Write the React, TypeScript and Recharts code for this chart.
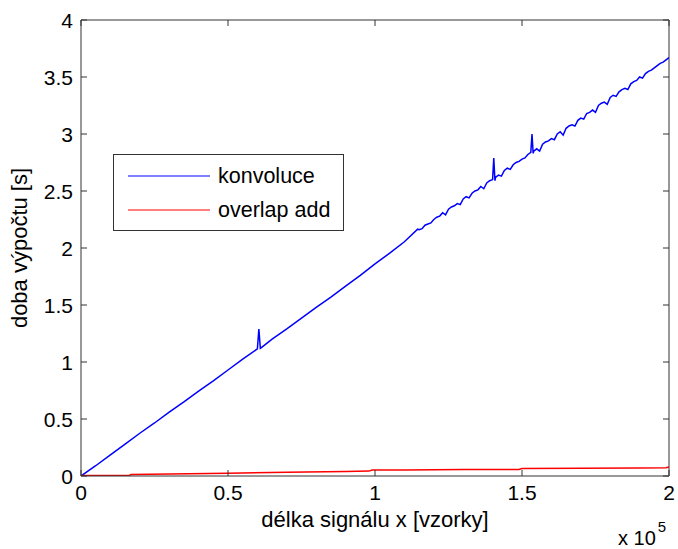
import React from "react";
import { LineChart, Line, XAxis, YAxis, Label, ReferenceLine } from "recharts";

// konvoluce: x in samples, y = time [s]
const konvX = [
  0, 5000, 10000, 15000, 20000, 25000, 30000, 35000, 40000, 45000, 50000, 55000, 60000, 60500, 61000, 62000,
  65000, 70000, 75000, 80000, 85000, 90000, 95000, 100000, 105000, 110000, 114500,
  115000, 116000, 117000, 118000, 119000, 120000, 121000, 122000, 123000, 124000, 125000, 126000, 127000,
  128000, 129000, 130000, 131000, 132000, 133000, 134000, 135000, 136000, 137000, 138000, 139000, 140000,
  140400, 140800, 141000, 142000, 143000, 144000, 145000, 146000, 147000, 148000, 149000, 150000, 151000,
  152000, 153000, 153400, 153800, 154000, 155000, 156000, 157000, 158000, 159000, 160000, 161000, 162000,
  163000, 164000, 165000, 166000, 167000, 168000, 169000, 170000, 171000, 172000, 173000, 174000, 175000,
  176000, 177000, 178000, 179000, 180000, 181000, 182000, 183000, 184000, 185000, 186000, 187000, 188000,
  189000, 190000, 191000, 192000, 193000, 194000, 195000, 196000, 197000, 198000, 199000, 200000,
];
const konvY = [
  0, 0.09, 0.185, 0.28, 0.375, 0.465, 0.56, 0.65, 0.745, 0.835, 0.93, 1.025, 1.115, 1.29, 1.12, 1.14,
  1.2, 1.29, 1.385, 1.48, 1.57, 1.665, 1.76, 1.86, 1.955, 2.055, 2.165,
  2.16, 2.17, 2.2, 2.21, 2.22, 2.25, 2.27, 2.28, 2.31, 2.29, 2.34, 2.36, 2.37,
  2.39, 2.38, 2.43, 2.45, 2.44, 2.48, 2.5, 2.51, 2.54, 2.52, 2.57, 2.59, 2.6,
  2.79, 2.59, 2.62, 2.64, 2.63, 2.68, 2.7, 2.69, 2.73, 2.75, 2.76, 2.78, 2.79,
  2.82, 2.84, 3.0, 2.83, 2.85, 2.87, 2.85, 2.91, 2.93, 2.94, 2.96, 2.95, 3.0,
  3.02, 2.99, 3.05, 3.07, 3.08, 3.07, 3.12, 3.14, 3.13, 3.18, 3.19, 3.21, 3.19,
  3.25, 3.27, 3.28, 3.26, 3.32, 3.34, 3.33, 3.37, 3.39, 3.4, 3.39, 3.44, 3.46,
  3.47, 3.5, 3.49, 3.53, 3.55, 3.56, 3.58, 3.6, 3.62, 3.63, 3.65, 3.67,
];

// overlap add
const overlapX = [0, 16500, 17000, 30000, 50000, 70000, 90000, 98000, 99000, 110000, 130000, 149000, 150000, 170000, 190000, 199000, 200000];
const overlapY = [0.004, 0.005, 0.013, 0.018, 0.025, 0.033, 0.04, 0.043, 0.052, 0.053, 0.056, 0.058, 0.066, 0.069, 0.071, 0.073, 0.08];

const xTicks = [0, 50000, 100000, 150000, 200000];
const yTicks = [0, 0.5, 1, 1.5, 2, 2.5, 3, 3.5, 4];

const konvData = konvX.map((x, i) => ({ x, y: konvY[i] }));
const overlapData = overlapX.map((x, i) => ({ x, y: overlapY[i] }));

const FONT = '"Liberation Sans", Arial, Helvetica, sans-serif';
const AXIS = "#333";
const PLOT_TOP = 20;
const PLOT_RIGHT = 669;
const TICK = 6;

const XTick = (props: any) => {
  const { x, y, payload } = props;
  return (
    <g>
      <line x1={x} x2={x} y1={y} y2={y - TICK} stroke={AXIS} />
      <line x1={x} x2={x} y1={PLOT_TOP} y2={PLOT_TOP + TICK} stroke={AXIS} />
      <text x={x} y={y + 24} textAnchor="middle" fontSize={21} fontFamily={FONT} fill="#000">
        {String(payload.value / 100000)}
      </text>
    </g>
  );
};

const YTick = (props: any) => {
  const { x, y, payload } = props;
  return (
    <g>
      <line x1={x} x2={x + TICK} y1={y} y2={y} stroke={AXIS} />
      <line x1={PLOT_RIGHT} x2={PLOT_RIGHT - TICK} y1={y} y2={y} stroke={AXIS} />
      <text x={x - 8} y={y + 8} textAnchor="end" fontSize={21} fontFamily={FONT} fill="#000">
        {String(payload.value)}
      </text>
    </g>
  );
};

const ExpLabel = (props: any) => {
  const { viewBox } = props;
  const right = viewBox.x + viewBox.width;
  return (
    <text x={right - 51} y={viewBox.y + 69} fontSize={20} fontFamily={FONT} fill="#000">
      x 10
      <tspan dx={2} dy={-13} fontSize={15}>5</tspan>
    </text>
  );
};

export default function App() {
  return (
    <div style={{ position: "absolute", left: 0, top: 0, width: 678, height: 549, background: "#fff" }}>
      <LineChart width={678} height={549} margin={{ top: PLOT_TOP, right: 9, bottom: 0, left: 0 }}>
        <XAxis
          type="number"
          dataKey="x"
          domain={[0, 200000]}
          ticks={xTicks}
          interval={0}
          height={73}
          tickSize={0}
          tickMargin={0}
          tickLine={false}
          tick={<XTick />}
          axisLine={{ stroke: AXIS }}
          allowDataOverflow
        >
          <Label value="délka signálu x [vzorky]" position="insideTop" offset={35} fontSize={22} fontFamily={FONT} fill="#000" />
          <Label content={<ExpLabel />} />
        </XAxis>
        <YAxis
          type="number"
          dataKey="y"
          domain={[0, 4]}
          ticks={yTicks}
          interval={0}
          width={81}
          tickSize={0}
          tickMargin={0}
          tickLine={false}
          tick={<YTick />}
          axisLine={{ stroke: AXIS }}
          allowDataOverflow
        >
          <Label value="doba výpočtu [s]" angle={-90} position="insideLeft" offset={19} textAnchor="middle" fontSize={22} fontFamily={FONT} fill="#000" />
        </YAxis>
        <ReferenceLine y={4} stroke={AXIS} />
        <ReferenceLine x={200000} stroke={AXIS} />
        <Line data={konvData} dataKey="y" type="linear" stroke="#0000ff" strokeWidth={1.5} dot={false} isAnimationActive={false} />
        <Line data={overlapData} dataKey="y" type="linear" stroke="#ff0000" strokeWidth={1.5} dot={false} isAnimationActive={false} />
      </LineChart>
      <div
        style={{
          position: "absolute",
          left: 113,
          top: 154,
          width: 229,
          height: 75,
          border: `1px solid ${AXIS}`,
          background: "#fff",
          fontFamily: FONT,
          fontSize: 21.5,
        }}
      >
        {[
          { name: "konvoluce", color: "#0000ff", top: 8 },
          { name: "overlap add", color: "#ff0000", top: 42 },
        ].map((item) => (
          <div key={item.name} style={{ position: "absolute", left: 14, top: item.top, height: 26, display: "flex", alignItems: "center" }}>
            <svg width={82} height={4} style={{ display: "block" }}>
              <line x1={0} x2={82} y1={2} y2={2} stroke={item.color} strokeWidth={1.2} />
            </svg>
            <span style={{ marginLeft: 8, lineHeight: "26px" }}>{item.name}</span>
          </div>
        ))}
      </div>
    </div>
  );
}
